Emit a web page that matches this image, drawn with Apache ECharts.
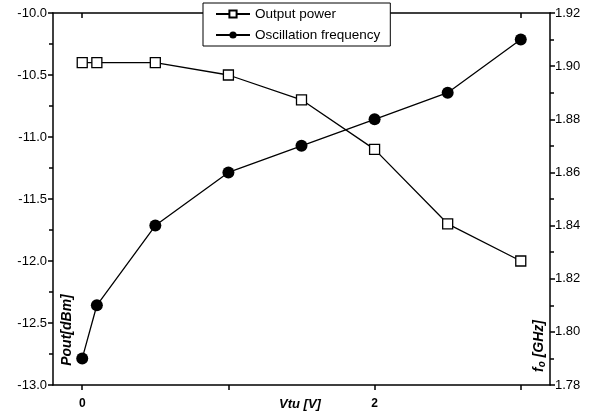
<!DOCTYPE html>
<html>
<head>
<meta charset="utf-8">
<script src="https://cdn.jsdelivr.net/npm/echarts@6/dist/echarts.min.js"></script>
<style>html,body{margin:0;padding:0;background:#fff}#c{width:594px;height:416px}</style>
</head>
<body>
<div id="c"></div>
<script>
var vtu = [0, 0.1, 0.5, 1.0, 1.5, 2.0, 2.5, 3.0];
var outputPower = [-10.4, -10.4, -10.4, -10.5, -10.7, -11.1, -11.7, -12.0];
var oscFreq = [1.79, 1.81, 1.84, 1.86, 1.87, 1.88, 1.89, 1.91];
var xTicks = [0, 1, 2, 3];
var xTickLabels = [0, 2];

var FONT = '"Liberation Sans", Arial, Helvetica, sans-serif';
function pairs(xs, ys) { return xs.map(function (x, i) { return [x, ys[i]]; }); }

var chart = echarts.init(document.getElementById('c'), null, { renderer: 'canvas' });
chart.setOption({
  backgroundColor: '#fff',
  animation: false,
  grid: { left: 53, right: 44, top: 13, bottom: 31, containLabel: false },
  legend: {
    orient: 'vertical', left: 203, top: 3,
    backgroundColor: '#fff', borderColor: '#000', borderWidth: 1,
    padding: [4, 10, 4, 12], itemGap: 7, itemWidth: 34, itemHeight: 9,
    textStyle: { fontFamily: FONT, fontSize: 13.5, color: '#000' },
    data: ['Output power', 'Oscillation frequency']
  },
  xAxis: [{
    type: 'value', min: -0.2, max: 3.2, position: 'bottom',
    axisLine: { show: true, onZero: false, lineStyle: { color: '#000', width: 1.5 } },
    axisTick: { show: true, customValues: xTicks, length: 5, lineStyle: { color: '#000', width: 1.5 } },
    axisLabel: { customValues: xTickLabels, margin: 13, fontFamily: FONT, fontSize: 12, fontWeight: 'bold', color: '#000' },
    splitLine: { show: false }
  }, {
    type: 'value', min: -0.2, max: 3.2, position: 'top',
    axisLine: { show: true, onZero: false, lineStyle: { color: '#000', width: 1.5 } },
    axisTick: { show: true, inside: true, customValues: xTicks, length: 5, lineStyle: { color: '#000', width: 1.5 } },
    axisLabel: { show: false },
    splitLine: { show: false }
  }],
  yAxis: [{
    type: 'value', min: -13, max: -10, interval: 0.5, position: 'left',
    axisLine: { show: true, onZero: false, lineStyle: { color: '#000', width: 1.5 } },
    axisTick: { show: true, length: 5, lineStyle: { color: '#000', width: 1.5 } },
    minorTick: { show: true, splitNumber: 2, length: 4, lineStyle: { color: '#000', width: 1.5 } },
    axisLabel: { margin: 6, fontFamily: FONT, fontSize: 13, color: '#000', formatter: function (v) { return v.toFixed(1); } },
    splitLine: { show: false }
  }, {
    type: 'value', min: 1.78, max: 1.92, interval: 0.02, position: 'right',
    axisLine: { show: true, onZero: false, lineStyle: { color: '#000', width: 1.5 } },
    axisTick: { show: true, length: 5, lineStyle: { color: '#000', width: 1.5 } },
    minorTick: { show: true, splitNumber: 2, length: 4, lineStyle: { color: '#000', width: 1.5 } },
    axisLabel: { margin: 5, fontFamily: FONT, fontSize: 13, color: '#000', formatter: function (v) { return v.toFixed(2); } },
    splitLine: { show: false }
  }],
  graphic: [
    { type: 'text', x: 67, y: 330, rotation: Math.PI / 2,
      style: { text: 'Pout[dBm]', font: 'italic bold 14px ' + FONT, fill: '#000', align: 'center', verticalAlign: 'middle' } },
    { type: 'text', x: 300, y: 404,
      style: { text: 'Vtu [V]', font: 'italic bold 13px ' + FONT, fill: '#000', align: 'center', verticalAlign: 'middle' } },
    { type: 'text', x: 539, y: 346, rotation: Math.PI / 2,
      style: { text: '{a|f}{b|o}{a| [GHz]}', align: 'center', verticalAlign: 'middle', fill: '#000',
        rich: { a: { font: 'italic bold 14px ' + FONT, fill: '#000' },
                b: { font: 'italic bold 10px ' + FONT, fill: '#000', verticalAlign: 'bottom', padding: [6, 0, 0, 0] } } } }
  ],
  series: [{
    name: 'Output power', type: 'line', xAxisIndex: 0, yAxisIndex: 0,
    data: pairs(vtu, outputPower),
    symbol: 'rect', symbolSize: 10,
    lineStyle: { color: '#000', width: 1.3 },
    itemStyle: { color: '#fff', borderColor: '#000', borderWidth: 1.3 }
  }, {
    name: 'Oscillation frequency', type: 'line', xAxisIndex: 0, yAxisIndex: 1,
    data: pairs(vtu, oscFreq),
    symbol: 'circle', symbolSize: 12,
    lineStyle: { color: '#000', width: 1.3 },
    itemStyle: { color: '#000', borderColor: '#000', borderWidth: 0 }
  }]
});
</script>
</body>
</html>
